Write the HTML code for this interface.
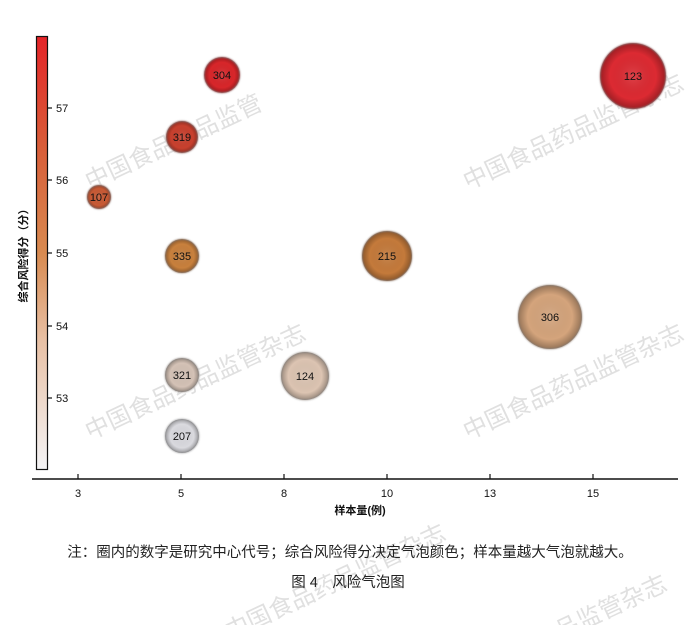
<!DOCTYPE html>
<html><head><meta charset="utf-8"><style>
body{margin:0;background:#fff;}
svg{display:block;}
text{font-family:"Liberation Sans","Noto Sans CJK SC",sans-serif;}
</style></head><body>
<svg width="695" height="625" viewBox="0 0 695 625" xmlns="http://www.w3.org/2000/svg">
<defs>
<linearGradient id="cb" x1="0" y1="1" x2="0" y2="0">
<stop offset="0" stop-color="#f4f4f6"/>
<stop offset="0.3" stop-color="#e8c0a4"/>
<stop offset="0.5" stop-color="#d88a50"/>
<stop offset="0.75" stop-color="#d85c38"/>
<stop offset="1" stop-color="#e42428"/>
</linearGradient>
<radialGradient id="sh" cx="0.5" cy="0.5" r="0.5">
<stop offset="0" stop-color="#fff" stop-opacity="0.12"/>
<stop offset="0.7" stop-color="#000" stop-opacity="0"/>
<stop offset="1" stop-color="#000" stop-opacity="0.3"/>
</radialGradient>
<filter id="bl"><feGaussianBlur stdDeviation="0.8"/></filter>
</defs>
<g fill="#e0e0e0" font-size="24">
<text transform="translate(90,190) rotate(-25)">中国食品药品监管</text>
<text transform="translate(468,190) rotate(-25)">中国食品药品监管杂志</text>
<text transform="translate(90,440) rotate(-25)">中国食品药品监管杂志</text>
<text transform="translate(468,440) rotate(-25)">中国食品药品监管杂志</text>
<text transform="translate(230,640) rotate(-25)">中国食品药品监管杂志</text>
<text transform="translate(560,640) rotate(-25)">品监管杂志</text>
</g>
<rect x="36.5" y="36.5" width="11" height="433" fill="url(#cb)" stroke="#111" stroke-width="1.2"/>
<g stroke="#111" stroke-width="1.2">
<line x1="47" y1="108" x2="52" y2="108"/><line x1="47" y1="180" x2="52" y2="180"/>
<line x1="47" y1="253" x2="52" y2="253"/><line x1="47" y1="326" x2="52" y2="326"/>
<line x1="47" y1="398" x2="52" y2="398"/>
</g>
<g font-size="11" fill="#111">
<text x="56" y="112">57</text><text x="56" y="184">56</text><text x="56" y="257">55</text>
<text x="56" y="330">54</text><text x="56" y="402">53</text>
</g>
<text transform="translate(27,253) rotate(-90)" font-size="11" font-weight="bold" text-anchor="middle" fill="#111">综合风险得分（分）</text>
<line x1="32" y1="479" x2="678" y2="479" stroke="#111" stroke-width="1.5"/>
<g stroke="#111" stroke-width="1.2">
<line x1="78" y1="474" x2="78" y2="479"/><line x1="181" y1="474" x2="181" y2="479"/>
<line x1="284" y1="474" x2="284" y2="479"/><line x1="387" y1="474" x2="387" y2="479"/>
<line x1="490" y1="474" x2="490" y2="479"/><line x1="593" y1="474" x2="593" y2="479"/>
</g>
<g font-size="11" fill="#111" text-anchor="middle">
<text x="78" y="497">3</text><text x="181" y="497">5</text><text x="284" y="497">8</text>
<text x="387" y="497">10</text><text x="490" y="497">13</text><text x="593" y="497">15</text>
<text x="360" y="514" font-weight="bold">样本量(例)</text>
</g>
<g filter="url(#bl)" stroke="#999" stroke-opacity="0.5" stroke-width="1.5">
<circle cx="222" cy="75" r="18" fill="#d8282c"/>
<circle cx="633" cy="76" r="33" fill="#dc2a30"/>
<circle cx="182" cy="137" r="16" fill="#c8402e"/>
<circle cx="99" cy="197" r="12" fill="#c85a34"/>
<circle cx="182" cy="256" r="17" fill="#c8803e"/>
<circle cx="387" cy="256" r="25" fill="#c47a3a"/>
<circle cx="550" cy="317" r="32" fill="#d4a47c"/>
<circle cx="305" cy="376" r="24" fill="#dcc4b2"/>
<circle cx="182" cy="375" r="17" fill="#d4c2b6"/>
<circle cx="182" cy="436" r="17" fill="#dadadf"/>
</g>
<g fill="url(#sh)">
<circle cx="222" cy="75" r="18"/><circle cx="633" cy="76" r="33"/><circle cx="182" cy="137" r="16"/>
<circle cx="99" cy="197" r="12"/><circle cx="182" cy="256" r="17"/><circle cx="387" cy="256" r="25"/>
<circle cx="550" cy="317" r="32"/><circle cx="305" cy="376" r="24"/><circle cx="182" cy="375" r="17"/>
<circle cx="182" cy="436" r="17"/>
</g>
<g font-size="11" fill="#111" text-anchor="middle">
<text x="222" y="79">304</text><text x="633" y="80">123</text><text x="182" y="141">319</text>
<text x="99" y="201">107</text><text x="182" y="260">335</text><text x="387" y="260">215</text>
<text x="550" y="321">306</text><text x="305" y="380">124</text><text x="182" y="379">321</text>
<text x="182" y="440">207</text>
</g>
<text x="350" y="557" font-size="14.5" text-anchor="middle" fill="#222">注：圈内的数字是研究中心代号；综合风险得分决定气泡颜色；样本量越大气泡就越大。</text>
<text x="348" y="587" font-size="14.5" text-anchor="middle" fill="#222">图 4　风险气泡图</text>
</svg>
</body></html>
